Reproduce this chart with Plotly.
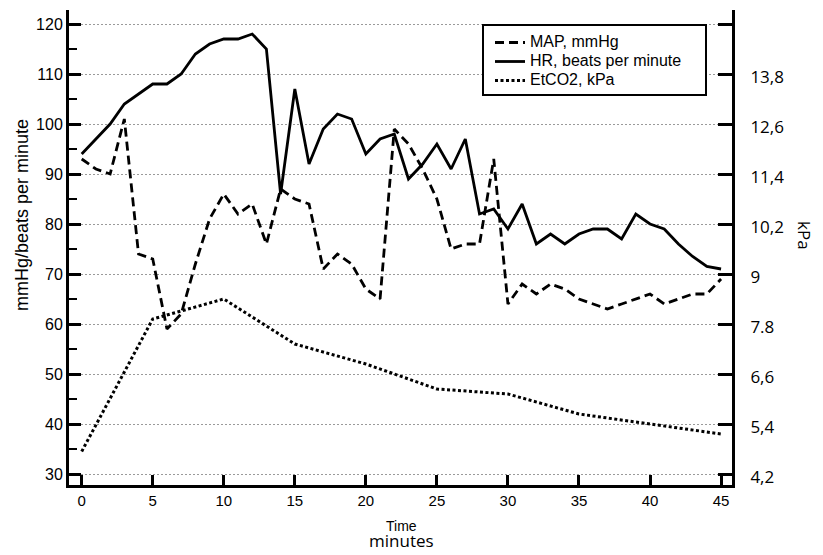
import plotly.graph_objects as go

# ---- data ----
minutes_map = list(range(0, 46))
map_mmhg = [93, 91, 90, 101, 74, 73, 59, 62, 72, 81,
            86, 82, 84, 76, 87, 85, 84, 71, 74, 72,
            67, 65, 99, 96, 91, 85, 75, 76, 76, 93,
            64, 68, 66, 68, 67, 65, 64, 63, 64, 65,
            66, 64, 65, 66, 66, 69]

minutes_hr = list(range(0, 46))
hr_bpm = [94, 97, 100, 104, 106, 108, 108, 110, 114, 116,
          117, 117, 118, 115, 86, 107, 92, 99, 102, 101,
          94, 97, 98, 89, 92, 96, 91, 97, 82, 83,
          79, 84, 76, 78, 76, 78, 79, 79, 77, 82,
          80, 79, 76, 73.5, 71.5, 71]

minutes_etco2 = [0, 5, 10, 15, 20, 25, 30, 35, 40, 45]
etco2_kpa = [4.74, 7.92, 8.40, 7.32, 6.84, 6.24, 6.12, 5.64, 5.40, 5.16]

x_ticks = [0, 5, 10, 15, 20, 25, 30, 35, 40, 45]
left_ticks = [30, 40, 50, 60, 70, 80, 90, 100, 110, 120]
left_minor = [35, 45, 55, 65, 75, 85, 95, 105, 115]
right_ticks = [4.2, 5.4, 6.6, 7.8, 9.0, 10.2, 11.4, 12.6, 13.8, 15.0]
right_labels = ["4,2", "5,4", "6,6", "7.8", "9", "10,2", "11,4", "12,6", "13,8", ""]

series_names = ["MAP, mmHg", "HR, beats per minute", "EtCO2, kPa"]

# ---- layout geometry (page body has an 8px margin) ----
OFF = 8
W, H = 823 - OFF, 555 - OFF
PL, PR, PT, PB = 69, 732, 10, 485          # plot-area edges in window pixels
L, R, T, B = PL - OFF, W - (PR - OFF), PT - OFF, H - (PB - OFF)
pw, ph = PR - PL, PB - PT


def px_x(xpix):
    return (xpix - PL) / pw


def px_y(ypix):
    return (PB - ypix) / ph


ARIAL = "Liberation Sans, Arial, sans-serif"
OPEN = "Open Sans, Noto Sans, sans-serif"


def legend_label(s):
    return "<span style='font-size:16px'>" + s + "</span>"


fig = go.Figure()
fig.add_trace(go.Scatter(x=minutes_map, y=map_mmhg, mode="lines", name=legend_label(series_names[0]),
                         line=dict(color="black", width=2.8, dash="9px,5px")))
fig.add_trace(go.Scatter(x=minutes_hr, y=hr_bpm, mode="lines", name=legend_label(series_names[1]),
                         line=dict(color="black", width=2.8)))
fig.add_trace(go.Scatter(x=minutes_etco2, y=etco2_kpa, mode="lines", name=legend_label(series_names[2]),
                         yaxis="y2", line=dict(color="black", width=3, dash="3px,2.5px")))

y_lo, y_hi = 27.8, 122.8
fig.update_layout(
    width=W, height=H, autosize=False,
    margin=dict(l=L, r=R, t=T, b=B, autoexpand=False),
    paper_bgcolor="white", plot_bgcolor="white",
    font=dict(family=ARIAL, color="black"),
    showlegend=True,
    legend=dict(x=px_x(490), y=px_y(28), xanchor="left", yanchor="top",
                bgcolor="rgba(0,0,0,0)", borderwidth=0,
                font=dict(size=12, family=ARIAL),
                tracegroupgap=0, itemwidth=30),
    xaxis=dict(range=[-0.894, 45.77], tickvals=x_ticks, ticks="inside", ticklen=10,
               tickwidth=3, tickcolor="black", showline=True, linewidth=3, linecolor="black",
               showgrid=False, zeroline=False,
               tickfont=dict(size=15, family=ARIAL)),
    yaxis=dict(range=[y_lo, y_hi], tickvals=left_ticks, ticks="inside", ticklen=12,
               tickwidth=3, tickcolor="black", showline=True, linewidth=3, linecolor="black",
               showgrid=True, gridcolor="#9a9a9a", gridwidth=1, griddash="2px,2px",
               zeroline=False,
               minor=dict(tickvals=left_minor, ticks="inside", ticklen=8, tickwidth=2,
                          tickcolor="black", showgrid=False),
               tickfont=dict(size=16, family=ARIAL)),
    yaxis2=dict(range=[4.2 + (y_lo - 30) * 0.12, 4.2 + (y_hi - 30) * 0.12],
                overlaying="y", side="right", tickvals=right_ticks, ticktext=right_labels,
                ticks="inside", ticklen=14, tickwidth=3, tickcolor="black",
                showline=True, linewidth=3, linecolor="black", showgrid=False,
                zeroline=False, ticklabelstandoff=12, ticklabelshift=3,
                tickfont=dict(size=17, family=OPEN)),
)

# legend frame (white box with black border)
fig.add_shape(type="rect", xref="paper", yref="paper",
              x0=px_x(483), x1=px_x(706), y0=px_y(95), y1=px_y(25),
              line=dict(color="black", width=2), fillcolor="white", layer="above")

fig.add_annotation(text="mmHg/beats per minute", xref="paper", yref="paper",
                   x=px_x(22), y=px_y(215), textangle=-90, showarrow=False,
                   xanchor="center", yanchor="middle",
                   font=dict(size=18, family=ARIAL))
fig.add_annotation(text="kPa", xref="paper", yref="paper",
                   x=px_x(805), y=px_y(235), textangle=90, showarrow=False,
                   xanchor="center", yanchor="middle",
                   font=dict(size=17, family=OPEN))
fig.add_annotation(
    text=("<span style='font-size:14px'>Time</span><br>"
          "<span style='font-size:17px;font-family:\"Open Sans\", \"Noto Sans\", sans-serif'>minutes</span>"),
    xref="paper", yref="paper", x=px_x(401.5), y=px_y(535), showarrow=False,
    xanchor="center", yanchor="middle", align="center",
    font=dict(size=12.5, family=ARIAL))

fig.write_html("out.html")
